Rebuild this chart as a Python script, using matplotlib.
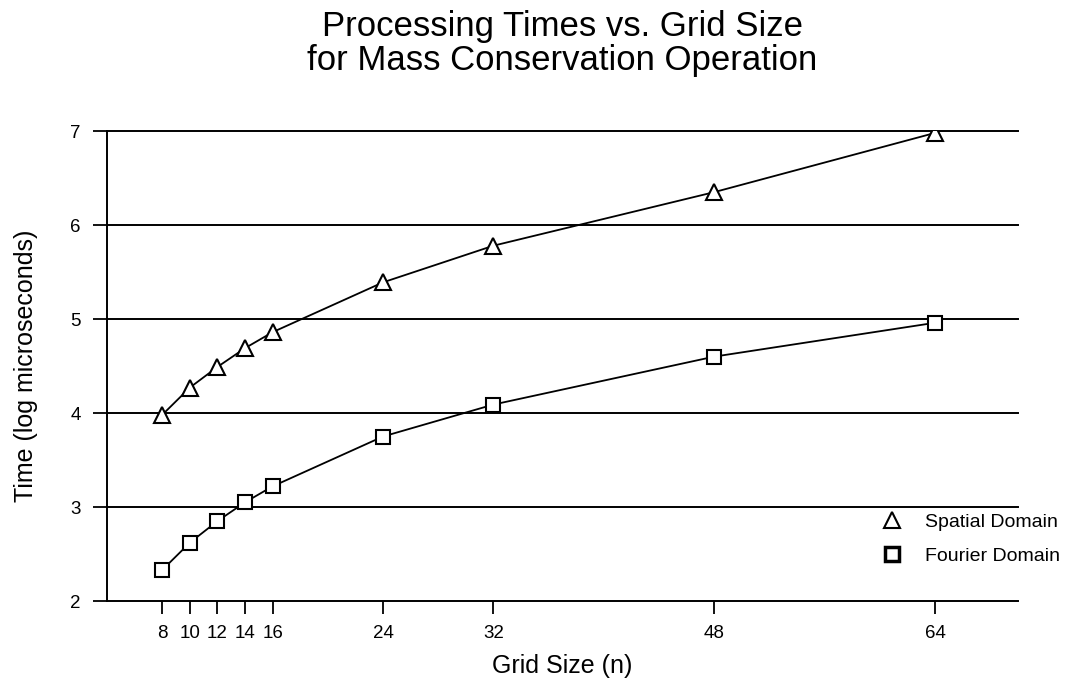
import matplotlib
matplotlib.use("Agg")
import matplotlib.pyplot as plt
from matplotlib.lines import Line2D

plt.rcParams['font.family'] = ['Liberation Sans', 'DejaVu Sans']

grid_sizes = [8, 10, 12, 14, 16, 24, 32, 48, 64]
spatial = [3.98, 4.27, 4.49, 4.69, 4.86, 5.39, 5.78, 6.35, 6.98]
fourier = [2.33, 2.62, 2.85, 3.05, 3.22, 3.75, 4.09, 4.60, 4.96]
y_ticks = [2, 3, 4, 5, 6, 7]

fig = plt.figure(figsize=(10.75, 6.83), dpi=100)
ax = fig.add_axes([107 / 1075, 1 - 601 / 683, (1018 - 107) / 1075, (601 - 131) / 683])

ax.plot(grid_sizes, spatial, color='black', lw=1.3, marker='^', ms=12,
        mfc='white', mec='black', mew=1.5, zorder=3)
ax.plot(grid_sizes, fourier, color='black', lw=1.3, marker='s', ms=10,
        mfc='white', mec='black', mew=1.5, zorder=3)

ax.set_xlim(4, 70)
ax.set_ylim(2, 7)
ax.set_xticks(grid_sizes)
ax.set_yticks(y_ticks)
for y in y_ticks[1:]:
    ax.axhline(y, color='black', lw=1.4, zorder=1, clip_on=False)

for side in ['top', 'right']:
    ax.spines[side].set_visible(False)
ax.spines['left'].set_linewidth(1.4)
ax.spines['bottom'].set_linewidth(1.4)
ax.tick_params(axis='x', length=9, width=1.3, labelsize=13.5, pad=8)
ax.tick_params(axis='y', length=10, width=1.3, labelsize=13.5, pad=9)

ax.set_xlabel('Grid Size (n)', fontsize=18, labelpad=9)
ax.set_ylabel('Time (log microseconds)', fontsize=18, labelpad=23)
ax.set_title('Processing Times vs. Grid Size\nfor Mass Conservation Operation',
             fontsize=25, pad=44, linespacing=1.02)

handles = [
    Line2D([], [], ls='none', marker='^', ms=11, mfc='white', mec='black', mew=1.5),
    Line2D([], [], ls='none', marker='s', ms=10, mfc='white', mec='black', mew=2.5),
]
fig.legend(handles, ['Spatial Domain', 'Fourier Domain'],
           loc='center left', bbox_to_anchor=(877 / 1075, 1 - 539 / 683),
           frameon=False, fontsize=14, handlelength=1.5, handletextpad=0.95,
           labelspacing=0.85, borderpad=0, borderaxespad=0, numpoints=1)

fig.savefig('out.png', dpi=100)
